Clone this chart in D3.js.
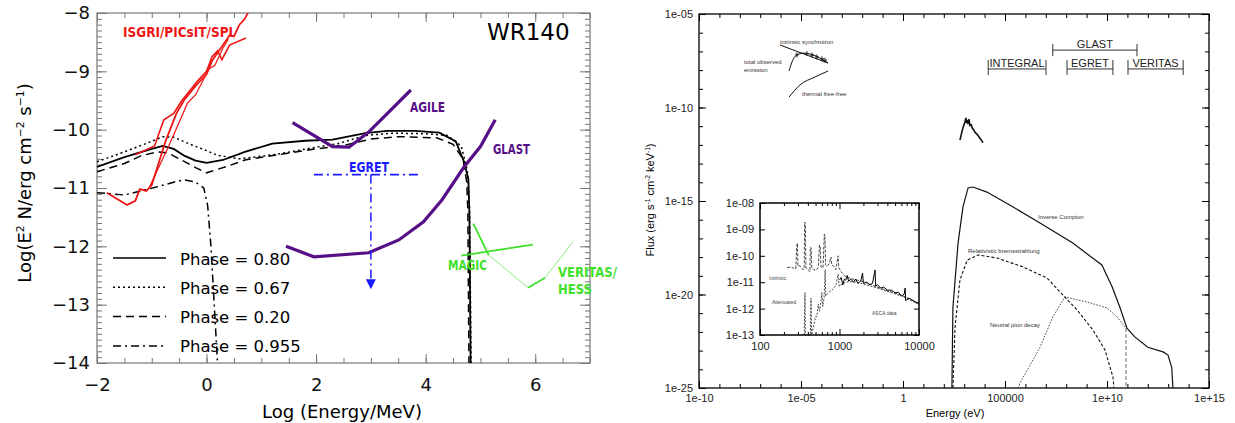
<!DOCTYPE html>
<html>
<head>
<meta charset="utf-8">
<script src="https://cdn.jsdelivr.net/npm/d3@7"></script>
<style>
body { margin: 0; background: #fff; }
.left text { font-family: "DejaVu Sans", sans-serif; }
.right text { font-family: "Liberation Sans", Arial, sans-serif; }
</style>
</head>
<body>
<svg id="chart" width="1235" height="423"></svg>
<script>
// ---------- left panel: log(E/MeV) vs log(E^2 N) ----------
var phase080 = [[-2,-10.64],[-1.5,-10.47],[-1.0,-10.33],[-0.8,-10.28],[-0.6,-10.33],[-0.4,-10.45],[-0.2,-10.53],[0,-10.57],[0.3,-10.52],[0.7,-10.38],[1.2,-10.24],[1.8,-10.19],[2.3,-10.17],[2.9,-10.06],[3.3,-10.02],[3.8,-10.02],[4.25,-10.05],[4.55,-10.2],[4.7,-10.55],[4.78,-10.85],[4.8,-11.5],[4.82,-14]];
var phase067 = [[-2,-10.55],[-1.5,-10.38],[-1.0,-10.2],[-0.8,-10.12],[-0.6,-10.13],[-0.3,-10.25],[0.0,-10.36],[0.2,-10.44],[0.6,-10.5],[1.3,-10.42],[2.0,-10.3],[2.4,-10.24],[2.9,-10.1],[3.4,-10.06],[4.0,-10.07],[4.4,-10.1],[4.65,-10.28],[4.76,-10.7],[4.8,-11.3],[4.83,-14]];
var phase020 = [[-2,-10.72],[-1.5,-10.58],[-1.2,-10.45],[-0.9,-10.38],[-0.7,-10.4],[-0.5,-10.5],[-0.2,-10.65],[0,-10.74],[0.4,-10.62],[0.7,-10.52],[1.3,-10.43],[2.0,-10.33],[2.5,-10.27],[3.0,-10.16],[3.5,-10.12],[4.2,-10.14],[4.5,-10.25],[4.68,-10.5],[4.75,-10.9],[4.77,-11.4],[4.79,-14]];
var phase0955 = [[-2,-11.08],[-1.75,-11.1],[-1.5,-11.12],[-1.2,-11.05],[-0.9,-10.98],[-0.6,-10.9],[-0.4,-10.86],[-0.2,-10.9],[-0.05,-11.0],[0.02,-11.3],[0.08,-12.0],[0.14,-13.0],[0.2,-14]];

var isgriA = [[-1.82,-11.08],[-1.45,-11.29],[-1.3,-11.22],[-1.22,-11.02],[-1.1,-11.05],[-1.0,-10.95],[-0.75,-10.2],[-0.55,-9.72],[-0.4,-9.48],[-0.2,-9.25],[0.0,-9.05],[0.1,-8.82],[0.2,-8.68],[0.3,-8.55],[0.42,-8.38],[0.5,-8.4],[0.6,-8.2],[0.7,-8.1],[0.78,-7.95]];
var isgriB = [[-1.3,-10.43],[-0.95,-10.28],[-0.78,-9.83],[-0.6,-9.72],[-0.45,-9.5],[-0.15,-9.15],[0.0,-9.0],[0.1,-8.75],[0.2,-8.65],[0.28,-8.8],[0.42,-8.55],[0.72,-8.43]];
var isgriC = [[-1.04,-10.98],[-0.7,-10.3],[-0.35,-9.55],[-0.2,-9.4],[0.05,-8.95],[0.15,-8.9],[0.3,-8.6],[0.4,-8.45]];

var agile = [[1.57,-9.88],[2.3,-10.29],[2.6,-10.3],[2.95,-10.05],[3.73,-9.32]];
var glast = [[1.45,-12.0],[1.96,-12.18],[2.96,-12.11],[3.51,-11.89],[3.96,-11.58],[4.3,-11.2],[4.7,-10.64],[5.0,-10.29],[5.27,-9.83]];
var egretRange = [1.96, 3.93];
var egretLevel = -10.77;
var egretLimit = [3.0, -12.72];
var magic = [[4.65,-12.16],[5.96,-11.97]];
var veritasBold = [[[4.87,-11.61],[5.15,-12.15]],[[5.87,-12.71],[6.18,-12.54]]];
var veritasThin = [[[5.15,-12.15],[5.87,-12.71]],[[6.18,-12.54],[6.69,-11.92]]];

var phaseNames = ["Phase = 0.80", "Phase = 0.67", "Phase = 0.20", "Phase = 0.955"];

// ---------- right panel: energy (eV) vs flux ----------
var icCurve = [[250,1e-25],[263,1e-23],[280,2.1e-21],[500,5.6e-18],[870,4.8e-16],[1550,5e-15],[2700,5.6e-15],[1.3e4,3e-15],[2.5e5,4.8e-16],[5.2e6,6.6e-17],[2.1e8,5.6e-18],[5.6e9,3.8e-19],[1.8e10,2.5e-20],[4.4e10,1.9e-21],[9.5e10,1.6e-22],[2.3e11,5.4e-23],[1e12,1.5e-23],[5.6e12,8.5e-24],[9.8e12,5.8e-24],[1.5e13,1.2e-24],[1.7e13,1e-25]];
var bremsCurve = [[280,1e-25],[355,1.8e-22],[620,6e-20],[1400,6.9e-19],[4800,1.3e-18],[4.1e4,8.9e-19],[7.6e5,3e-19],[1.15e7,7.6e-20],[6.9e7,9.3e-21],[3.4e8,1.5e-21],[2e9,1.3e-22],[7.9e9,1.1e-23],[1.95e10,3.9e-25],[2.2e10,1e-25]];
var pionCurve = [[4.5e5,1e-25],[5.5e5,1.9e-25],[5.2e6,1.5e-23],[2.2e7,6.3e-22],[8.7e7,7.4e-21],[1.05e9,4e-21],[1e10,1.9e-21],[3.1e10,6.3e-22],[8.5e10,1.6e-22]];
var pionCutoff = [[8.5e10,1.6e-22],[8.5e10,1e-25]];

var synchIntrinsic = [[9.3e-7,2.2e-7],[2.1e-4,2.4e-8]];
var synchObserved = [[2.6e-6,8.9e-9],[3.6e-6,2.7e-8],[6.3e-6,6.5e-8],[1.26e-5,8.1e-8],[3.9e-5,6.5e-8],[2.1e-4,2.4e-8]];
var thermalFF = [[2.6e-6,3.6e-10],[8.9e-6,1.6e-9],[4.9e-5,4.3e-9],[2.1e-4,8.9e-9]];
var synchPoints = [[6.3e-6,6.5e-8],[1.95e-5,7.6e-8],[3.5e-5,6.3e-8],[6e-5,5e-8],[1.07e-4,4e-8],[1.5e-4,3.4e-8]];

var xrayBump = [[620,1.8e-12],[800,6e-12],[1000,1.3e-11],[1100,1.7e-11],[1200,2.8e-11],[1300,1.5e-11],[1400,2.2e-11],[1500,1.3e-11],[1700,2.4e-11],[1900,1.1e-11],[2200,1.2e-11],[2500,8e-12],[3000,6e-12],[3500,4.5e-12],[4000,4e-12],[5000,3e-12],[6000,2.2e-12],[7000,1.8e-12],[8300,1.3e-12]];

var bandNames = ["INTEGRAL", "EGRET", "VERITAS", "GLAST"];
var bandLo = [1.5e4, 1.1e8, 1.07e11, 2.2e7];
var bandHi = [1.02e7, 1.95e10, 5.4e13, 2.95e11];
var bandLevel = [1.15e-8, 1.15e-8, 1.15e-8, 1.17e-7];

var xTicksR = [1e-10, 1e-5, 1, 1e5, 1e10, 1e15];
var xLabelsR = ["1e-10", "1e-05", "1", "100000", "1e+10", "1e+15"];
var yTicksR = [1e-25, 1e-20, 1e-15, 1e-10, 1e-5];
var yLabelsR = ["1e-25", "1e-20", "1e-15", "1e-10", "1e-05"];

// inset: X-ray spectrum, 100 - 10000 eV
var insetIntrinsic = [[220,3.6e-11],[250,3.7e-11],[262,3.4e-11],[282,3.2e-11],[290,2.5e-10],[296,3.0e-10],[300,4e-11],[318,4.2e-11],[345,3.0e-11],[360,3.2e-11],[365,1.9e-9],[372,1.7e-9],[378,3.5e-11],[400,3.0e-11],[425,2.5e-11],[430,2.1e-10],[440,2.0e-10],[448,3.5e-11],[470,3.0e-11],[500,2.8e-11],[540,3.5e-11],[560,2.5e-10],[572,2.4e-10],[585,3.8e-11],[620,3.5e-11],[645,6.7e-10],[655,6.2e-10],[668,4.5e-11],[700,4.0e-11],[740,5e-11],[780,9e-11],[800,4.5e-11],[850,4e-11],[900,3e-11],[960,1.0e-10],[980,3.5e-11],[1050,2.5e-11],[1200,1.6e-11],[1500,1.3e-11],[2000,1.05e-11],[3000,6.5e-12],[4000,4.8e-12],[6000,3.2e-12],[8000,2.2e-12],[10000,1.4e-12]];
var insetAttenuated = [[360,1e-13],[368,4e-12],[372,1e-13],[430,1e-13],[438,2.5e-12],[445,1e-13],[470,2e-13],[500,5e-13],[520,5e-13],[540,1.5e-12],[560,8e-13],[580,1.5e-12],[600,4e-12],[615,1.2e-12],[640,2.5e-12],[660,3e-11],[670,3e-12],[720,4e-12],[800,5e-12],[850,6e-12],[900,7.5e-12],[960,2e-11],[990,7e-12],[1100,9e-12],[1300,1.05e-11],[1600,1.0e-11],[2000,8.5e-12],[3000,6e-12],[4500,4e-12],[6000,3e-12],[8000,2e-12],[10000,1.5e-12]];
var insetAsca = [[1000,1.2e-11],[1050,1.5e-11],[1100,8e-12],[1150,1.3e-11],[1200,1.2e-11],[1250,1.8e-11],[1300,1.1e-11],[1400,1.3e-11],[1500,1e-11],[1600,1.3e-11],[1700,9e-12],[1850,1.1e-11],[1950,2.2e-11],[2000,9e-12],[2200,1e-11],[2400,8e-12],[2600,9e-12],[2800,2.9e-11],[2850,7e-12],[3000,8e-12],[3300,6e-12],[3600,6.5e-12],[4000,5e-12],[4500,5e-12],[5000,4e-12],[5500,4.2e-12],[6000,3e-12],[6500,3.5e-12],[6700,6e-12],[6800,2e-12],[7500,2.5e-12],[8000,2.2e-12],[9000,1.8e-12],[10000,1.6e-12]];
var xTicksI = [100, 1000, 10000];
var yTicksI = [1e-13, 1e-12, 1e-11, 1e-10, 1e-9, 1e-8];
var yLabelsI = ["1e-13", "1e-12", "1e-11", "1e-10", "1e-09", "1e-08"];

var svg = d3.select("#chart");

// text with superscripts, parts = [[text, isSup], ...]
function supText(g, parts, size) {
    var t = g.append("text").attr("font-size", size);
    var up = false, shift = size * 0.38;
    parts.forEach(function (p) {
        var dy = 0;
        if (p[1] && !up) dy = -shift;
        if (!p[1] && up) dy = shift;
        up = !!p[1];
        t.append("tspan").text(p[0]).attr("font-size", p[1] ? size * 0.6 : size).attr("dy", dy);
    });
    return t;
}

function cleanAxis(g) { g.select(".domain").remove(); }

//================ LEFT PANEL ================
var L = svg.append("g").attr("class", "left");
var xL = d3.scaleLinear().domain([-2, 7]).range([97, 590]);
var yL = d3.scaleLinear().domain([-14, -8]).range([363, 13]);
var lineL = d3.line().x(function (d) { return xL(d[0]); }).y(function (d) { return yL(d[1]); });

L.append("clipPath").attr("id", "clipL").append("rect")
    .attr("x", xL(-2)).attr("y", yL(-8)).attr("width", xL(7) - xL(-2)).attr("height", yL(-14) - yL(-8));

var axisCol = "#777";
var xMinorL = d3.range(-2, 7.01, 0.5), yMinorL = d3.range(-14, -7.99, 0.1);
L.append("g").attr("transform", "translate(0," + yL(-14) + ")")
    .call(d3.axisBottom(xL).tickValues(xMinorL).tickSize(-5).tickFormat("")).call(cleanAxis);
L.append("g").attr("transform", "translate(0," + yL(-14) + ")")
    .call(d3.axisBottom(xL).tickValues([-2, 0, 2, 4, 6]).tickSize(-9).tickPadding(15).tickFormat(d3.format("d")))
    .call(cleanAxis);
L.append("g").attr("transform", "translate(0," + yL(-8) + ")")
    .call(d3.axisTop(xL).tickValues(xMinorL).tickSize(-5).tickFormat("")).call(cleanAxis);
L.append("g").attr("transform", "translate(0," + yL(-8) + ")")
    .call(d3.axisTop(xL).tickValues([-2, 0, 2, 4, 6]).tickSize(-9).tickFormat("")).call(cleanAxis);
L.append("g").attr("transform", "translate(" + xL(-2) + ",0)")
    .call(d3.axisLeft(yL).tickValues(yMinorL).tickSize(-5).tickFormat("")).call(cleanAxis);
L.append("g").attr("transform", "translate(" + xL(-2) + ",0)")
    .call(d3.axisLeft(yL).ticks(6).tickSize(-10).tickPadding(7).tickFormat(d3.format("d"))).call(cleanAxis);
L.append("g").attr("transform", "translate(" + xL(7) + ",0)")
    .call(d3.axisRight(yL).tickValues(yMinorL).tickSize(-5).tickFormat("")).call(cleanAxis);
L.append("g").attr("transform", "translate(" + xL(7) + ",0)")
    .call(d3.axisRight(yL).ticks(6).tickSize(-10).tickFormat("")).call(cleanAxis);
L.selectAll(".tick line").attr("stroke", axisCol);
L.selectAll(".tick text").attr("font-size", 18).attr("fill", "#111").attr("font-family", "DejaVu Sans");
L.append("rect").attr("x", xL(-2)).attr("y", yL(-8)).attr("width", xL(7) - xL(-2)).attr("height", yL(-14) - yL(-8))
    .attr("fill", "none").attr("stroke", axisCol).attr("stroke-width", 1.2);

// axis titles
L.append("text").attr("x", 342).attr("y", 418).attr("text-anchor", "middle").attr("font-size", 18).text("Log (Energy/MeV)");
var ytL = L.append("g").attr("transform", "translate(31,183) rotate(-90)");
supText(ytL, [["Log(E", 0], ["2", 1], [" N/erg cm", 0], ["\u22122", 1], [" s", 0], ["\u22121", 1], [")", 0]], 18)
    .attr("text-anchor", "middle");

var plotL = L.append("g").attr("clip-path", "url(#clipL)");
var dashes = [null, "2,3", "8,5", "8,4,2,4"];
[phase080, phase067, phase020].forEach(function (c, i) {
    plotL.append("path").datum(c).attr("d", lineL).attr("fill", "none").attr("stroke", "#000")
        .attr("stroke-width", i == 0 ? 1.8 : 1.5).attr("stroke-dasharray", dashes[i]);
});
plotL.append("path").datum(phase0955).attr("d", lineL).attr("fill", "none").attr("stroke", "#000")
    .attr("stroke-width", 1.5).attr("stroke-dasharray", dashes[3]);

// INTEGRAL instruments
[[isgriA, 1.8], [isgriB, 1.6], [isgriC, 1.2]].forEach(function (p) {
    plotL.append("path").datum(p[0]).attr("d", lineL).attr("fill", "none").attr("stroke", "#ee1515").attr("stroke-width", p[1]);
});

plotL.append("path").datum(agile).attr("d", lineL).attr("fill", "none").attr("stroke", "#560f87").attr("stroke-width", 3.2);
plotL.append("path").datum(glast).attr("d", lineL).attr("fill", "none").attr("stroke", "#560f87").attr("stroke-width", 3.2);

// EGRET upper limit
plotL.append("line").attr("x1", xL(egretRange[0])).attr("x2", xL(egretRange[1]))
    .attr("y1", yL(egretLevel)).attr("y2", yL(egretLevel))
    .attr("stroke", "#1a1aff").attr("stroke-width", 1.8).attr("stroke-dasharray", "9,4,2,4");
plotL.append("line").attr("x1", xL(egretLimit[0])).attr("x2", xL(egretLimit[0]))
    .attr("y1", yL(egretLevel)).attr("y2", yL(egretLimit[1]) - 8)
    .attr("stroke", "#1a1aff").attr("stroke-width", 1.5).attr("stroke-dasharray", "9,4,2,4");
plotL.append("path")
    .attr("d", "M" + (xL(egretLimit[0]) - 5) + "," + (yL(egretLimit[1]) - 9) + "h10l-5,10z")
    .attr("fill", "#1a1aff");

plotL.append("path").datum(magic).attr("d", lineL).attr("fill", "none").attr("stroke", "#3ee02a").attr("stroke-width", 1.8);
veritasBold.forEach(function (s) {
    plotL.append("path").datum(s).attr("d", lineL).attr("fill", "none").attr("stroke", "#3ee02a").attr("stroke-width", 1.8);
});
veritasThin.forEach(function (s) {
    plotL.append("path").datum(s).attr("d", lineL).attr("fill", "none").attr("stroke", "#8fea82").attr("stroke-width", 1);
});

// instrument labels
function tag(txt, x, y, w, col) {
    L.append("text").attr("x", x).attr("y", y).attr("fill", col).attr("font-size", 14)
        .attr("font-family", "Liberation Sans").attr("font-weight", "bold")
        .attr("textLength", w).attr("lengthAdjust", "spacingAndGlyphs").text(txt);
}
tag("ISGRI/PICsIT/SPI", 123, 37, 110, "#ee1515");
tag("AGILE", 410, 112, 35, "#560f87");
tag("GLAST", 493, 154, 37, "#560f87");
tag("EGRET", 349, 172, 40, "#1a1aff");
tag("MAGIC", 448, 270, 39, "#3ee02a");
tag("VERITAS/", 558, 277, 59, "#3ee02a");
tag("HESS", 558, 294, 34, "#3ee02a");
L.append("text").attr("x", 487).attr("y", 40).attr("font-size", 23).text("WR140");

// legend
phaseNames.forEach(function (n, i) {
    var yy = 258 + i * 29.3;
    L.append("line").attr("x1", 113).attr("x2", 166).attr("y1", yy).attr("y2", yy)
        .attr("stroke", "#000").attr("stroke-width", 1.5).attr("stroke-dasharray", dashes[i]);
    L.append("text").attr("x", 180).attr("y", yy + 6.5).attr("font-size", 16.5).text(n);
});

//================ RIGHT PANEL ================
var R = svg.append("g").attr("class", "right");
var xR = d3.scaleLog().domain([1e-10, 1e15]).range([699, 1209]);
var yR = d3.scaleLog().domain([1e-25, 1e-5]).range([388, 14]);
var lineR = d3.line().x(function (d) { return xR(d[0]); }).y(function (d) { return yR(d[1]); });

var decX = d3.range(-10, 16).map(function (e) { return Math.pow(10, e); });
var decY = d3.range(-25, -4).map(function (e) { return Math.pow(10, e); });
function axesR(g, xs, ys, xMaj, yMaj, xLab, yLab, x0, x1, y0, y1, big, small) {
    g.append("g").attr("transform", "translate(0," + y0 + ")")
        .call(d3.axisBottom(xs).tickValues(xMaj).tickSize(-big).tickPadding(6).tickFormat(function (d, i) { return xLab[i]; })).call(cleanAxis);
    g.append("g").attr("transform", "translate(0," + y0 + ")")
        .call(d3.axisBottom(xs).tickValues(decX.filter(inX)).tickSize(-small).tickFormat("")).call(cleanAxis);
    g.append("g").attr("transform", "translate(0," + y1 + ")")
        .call(d3.axisTop(xs).tickValues(xMaj).tickSize(-big).tickFormat("")).call(cleanAxis);
    g.append("g").attr("transform", "translate(0," + y1 + ")")
        .call(d3.axisTop(xs).tickValues(decX.filter(inX)).tickSize(-small).tickFormat("")).call(cleanAxis);
    g.append("g").attr("transform", "translate(" + x0 + ",0)")
        .call(d3.axisLeft(ys).tickValues(yMaj).tickSize(-big).tickPadding(6).tickFormat(function (d, i) { return yLab[i]; })).call(cleanAxis);
    g.append("g").attr("transform", "translate(" + x0 + ",0)")
        .call(d3.axisLeft(ys).tickValues(decY).tickSize(-small).tickFormat("")).call(cleanAxis);
    g.append("g").attr("transform", "translate(" + x1 + ",0)")
        .call(d3.axisRight(ys).tickValues(yMaj).tickSize(-big).tickFormat("")).call(cleanAxis);
    g.append("g").attr("transform", "translate(" + x1 + ",0)")
        .call(d3.axisRight(ys).tickValues(decY).tickSize(-small).tickFormat("")).call(cleanAxis);
    g.append("rect").attr("x", x0).attr("y", y1).attr("width", x1 - x0).attr("height", y0 - y1)
        .attr("fill", "none").attr("stroke", "#000").attr("stroke-width", 1.3);
    function inX(v) { return v >= xs.domain()[0] && v <= xs.domain()[1]; }
}
axesR(R, xR, yR, xTicksR, yTicksR, xLabelsR, yLabelsR, 699, 1209, 388, 14, 7, 4);
R.selectAll(".tick text").attr("font-size", 11).attr("fill", "#222");

R.append("text").attr("x", 955).attr("y", 417).attr("text-anchor", "middle").attr("font-size", 11).text("Energy (eV)");
var ytR = R.append("g").attr("transform", "translate(654,200) rotate(-90)");
supText(ytR, [["Flux (erg s", 0], ["-1", 1], [" cm", 0], ["-2", 1], [" keV", 0], ["-1", 1], [")", 0]], 11)
    .attr("text-anchor", "middle");

// gamma-ray model components
R.append("path").datum(icCurve).attr("d", lineR).attr("fill", "none").attr("stroke", "#111").attr("stroke-width", 1.2);
R.append("path").datum(bremsCurve).attr("d", lineR).attr("fill", "none").attr("stroke", "#111").attr("stroke-width", 1.1).attr("stroke-dasharray", "3,2");
R.append("path").datum(pionCurve).attr("d", lineR).attr("fill", "none").attr("stroke", "#444").attr("stroke-width", 1).attr("stroke-dasharray", "1.5,1.5");
R.append("path").datum(pionCutoff).attr("d", lineR).attr("fill", "none").attr("stroke", "#777").attr("stroke-width", 1.1).attr("stroke-dasharray", "4,2");

// radio part
var smooth = d3.line().curve(d3.curveMonotoneX).x(function (d) { return xR(d[0]); }).y(function (d) { return yR(d[1]); });
R.append("path").datum(synchIntrinsic).attr("d", lineR).attr("fill", "none").attr("stroke", "#111").attr("stroke-width", 1);
R.append("path").datum(synchObserved).attr("d", smooth).attr("fill", "none").attr("stroke", "#111").attr("stroke-width", 1);
R.append("path").datum(thermalFF).attr("d", smooth).attr("fill", "none").attr("stroke", "#111").attr("stroke-width", 1);
R.selectAll(".synpt").data(synchPoints).enter().append("path").attr("class", "synpt")
    .attr("d", function (d) { var x = xR(d[0]), y = yR(d[1]); return "M" + (x - 2) + "," + y + "h4M" + x + "," + (y - 2.5) + "v5"; })
    .attr("stroke", "#111").attr("stroke-width", 0.9);

R.append("path").datum(xrayBump).attr("d", lineR).attr("fill", "none").attr("stroke", "#111").attr("stroke-width", 1.6);

// instrument bands
bandNames.forEach(function (n, i) {
    var x0 = xR(bandLo[i]), x1 = xR(bandHi[i]), y = yR(bandLevel[i]);
    var top = i == 3 ? 6 : 9;
    R.append("path").attr("d", "M" + x0 + "," + (y - top) + "v" + (top + 6) + "M" + x0 + "," + y + "H" + x1 + "M" + x1 + "," + (y - top) + "v" + (top + 6))
        .attr("stroke", "#333").attr("stroke-width", 1).attr("fill", "none");
    R.append("text").attr("x", (x0 + x1) / 2).attr("y", y - 2).attr("text-anchor", "middle").attr("font-size", 11).attr("fill", "#222").text(n);
});

function note(txt, x, y, size) {
    R.append("text").attr("x", x).attr("y", y).attr("font-size", size || 6).attr("fill", "#333").text(txt);
}
note("intrinsic synchrotron", 780, 44);
note("total observed", 744, 64);
note("emission", 744, 72);
note("thermal free-free", 802, 96);
note("Inverse Compton", 1038, 219);
note("Relativistic bremsstrahlung", 968, 253);
note("Neutral pion decay", 990, 327);

// inset X-ray spectrum
var I = R.append("g");
var xI = d3.scaleLog().domain([100, 10000]).range([760, 919]);
var yI = d3.scaleLog().domain([1e-13, 1e-8]).range([335, 203]);
var lineI = d3.line().x(function (d) { return xI(d[0]); }).y(function (d) { return yI(Math.max(d[1], 1e-13)); });
I.append("rect").attr("x", 760).attr("y", 203).attr("width", 159).attr("height", 132).attr("fill", "#fff");
var decXI = [200, 300, 400, 500, 600, 700, 800, 900, 2000, 3000, 4000, 5000, 6000, 7000, 8000, 9000];
I.append("g").attr("transform", "translate(0,335)")
    .call(d3.axisBottom(xI).tickValues(xTicksI).tickSize(-6).tickPadding(7).tickFormat(d3.format("d"))).call(cleanAxis);
I.append("g").attr("transform", "translate(0,335)")
    .call(d3.axisBottom(xI).tickValues(decXI).tickSize(-3).tickFormat("")).call(cleanAxis);
I.append("g").attr("transform", "translate(0,203)")
    .call(d3.axisTop(xI).tickValues(xTicksI).tickSize(-6).tickFormat("")).call(cleanAxis);
I.append("g").attr("transform", "translate(0,203)")
    .call(d3.axisTop(xI).tickValues(decXI).tickSize(-3).tickFormat("")).call(cleanAxis);
I.append("g").attr("transform", "translate(760,0)")
    .call(d3.axisLeft(yI).tickValues(yTicksI).tickSize(-5).tickPadding(6).tickFormat(function (d, i) { return yLabelsI[i]; })).call(cleanAxis);
I.append("g").attr("transform", "translate(919,0)")
    .call(d3.axisRight(yI).tickValues(yTicksI).tickSize(-5).tickFormat("")).call(cleanAxis);
I.selectAll(".tick text").attr("font-size", 11).attr("fill", "#222");

I.append("path").datum(insetIntrinsic).attr("d", lineI).attr("fill", "none").attr("stroke", "#333").attr("stroke-width", 0.9).attr("stroke-dasharray", "3,1.5");
I.append("path").datum(insetAttenuated).attr("d", lineI).attr("fill", "none").attr("stroke", "#333").attr("stroke-width", 0.9).attr("stroke-dasharray", "2,1.5");
I.append("path").datum(insetAsca).attr("d", lineI).attr("fill", "none").attr("stroke", "#000").attr("stroke-width", 1);
I.append("rect").attr("x", 760).attr("y", 203).attr("width", 159).attr("height", 132)
    .attr("fill", "none").attr("stroke", "#000").attr("stroke-width", 1.5);
[["Intrinsic", 769, 280], ["Attenuated", 772, 304], ["ASCA data", 872, 315]].forEach(function (t) {
    I.append("text").attr("x", t[1]).attr("y", t[2]).attr("font-size", 5).attr("font-family", "Liberation Mono").attr("fill", "#444").text(t[0]);
});
</script>
</body>
</html>
